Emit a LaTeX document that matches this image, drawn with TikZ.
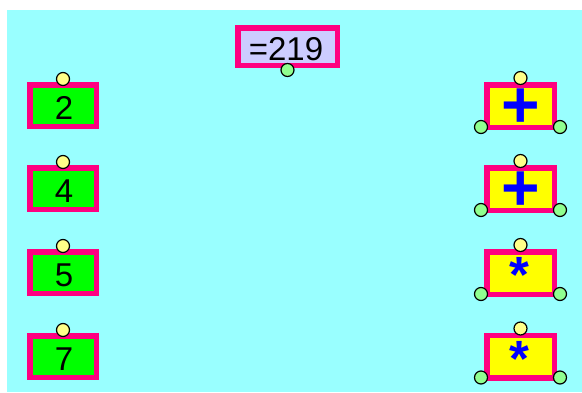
\documentclass[tikz,border=0pt]{standalone}
\usepackage{fontspec}
\setmainfont{Liberation Sans}
\definecolor{bgcyan}{RGB}{153,255,255}
\definecolor{pinkb}{RGB}{255,0,128}
\definecolor{numgreen}{RGB}{0,255,0}
\definecolor{lav}{RGB}{204,204,255}
\definecolor{opyellow}{RGB}{255,255,0}
\definecolor{opblue}{RGB}{0,0,255}
\definecolor{pyellow}{RGB}{255,255,136}
\definecolor{pgreen}{RGB}{144,255,144}
\tikzset{
  box/.style={draw=pinkb, line width=5.5pt, inner sep=0pt, font=\fontsize{33}{33}\selectfont},
  numbox/.style={box, fill=numgreen, minimum width=66.5pt, minimum height=41.5pt},
  opbox/.style={box, fill=opyellow, minimum width=67.5pt, minimum height=42.5pt},
  resbox/.style={box, fill=lav, minimum width=99.5pt, minimum height=37.5pt},
  optext/.style={inner sep=0pt, anchor=base, text=opblue, font=\fontsize{66}{66}\selectfont\bfseries},
  startext/.style={optext, font=\fontsize{51}{51}\selectfont\bfseries},
  numtext/.style={inner sep=0pt, anchor=base, font=\fontsize{33}{33}\selectfont},
  port/.style={circle, draw=black, line width=1.2pt, inner sep=0pt, minimum size=13pt},
  yport/.style={port, fill=pyellow},
  gport/.style={port, fill=pgreen}
}
\begin{document}
\begin{tikzpicture}[x=1pt,y=-1pt]
\useasboundingbox (0,0) rectangle (582,392);
\fill[white] (0,0) rectangle (582,392);
\fill[bgcyan] (7,10) rectangle (582,392);

% result node
\node[resbox] (res) at (287.5,46.5) {};
\node[numtext] (restext) at (286,60) {=219};
\node[gport] (resout) at ([yshift=-2pt]res.south) {};

% number nodes
\node[numbox] (n1) at (63,105.5) {};
\node[numbox] (n2) at (63,188.5) {};
\node[numbox] (n3) at (63,272.5) {};
\node[numbox] (n4) at (63,356.5) {};
\node[numtext] (d1) at (64,119) {2};
\node[numtext] (d2) at (64,202) {4};
\node[numtext] (d3) at (64,286) {5};
\node[numtext] (d4) at (64,370) {7};
\foreach \i in {1,2,3,4}{
  \node[yport] (n\i in) at ([yshift=3pt]n\i.north) {};
}

% operator nodes
\node[opbox] (o1) at (520.5,106) {};
\node[opbox] (o2) at (520.5,189) {};
\node[opbox] (o3) at (520.5,273) {};
\node[opbox] (o4) at (520.5,356.5) {};
\node[optext] (t1) at (520.5,127.5) {+};
\node[optext] (t2) at (520.5,210.5) {+};
\node[startext] (t3) at (519.5,292) {*};
\node[startext] (t4) at (519.5,376) {*};
\foreach \i in {1,2,3,4}{
  \node[yport] (o\i in) at ([yshift=4pt]o\i.north) {};
  \node[gport] (o\i l) at ([xshift=-3pt,yshift=3pt]o\i.south west) {};
  \node[gport] (o\i r) at ([xshift=3pt,yshift=3pt]o\i.south east) {};
}
\end{tikzpicture}
\end{document}
